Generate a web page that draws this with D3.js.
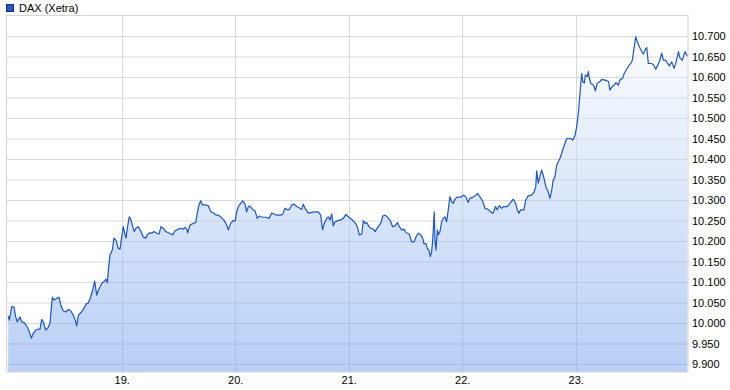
<!DOCTYPE html>
<html>
<head>
<meta charset="utf-8">
<script src="https://cdn.jsdelivr.net/npm/d3@7"></script>
<style>
  body { margin: 0; background: #fff; }
  text { font-family: Arial, "Liberation Sans", sans-serif; font-size: 11px; fill: #000; }
</style>
</head>
<body>
<svg id="chart" width="730" height="390"></svg>
<script>
// series name
const seriesName = "DAX (Xetra)";

// trading days shown on the x axis (day 18 is the left edge)
const xTickDays = [19, 20, 21, 22, 23];

// y tick values (index points)
const yTicks = d3.range(9900, 10701, 50);

// time as trading day + fraction of the session
const times = [
  18.000,18.010,18.031,18.051,18.066,18.080,18.104,18.119,18.139,18.163,18.186,18.204,18.221,18.245,18.265,18.280,18.295,18.309,18.330,18.348,18.368,18.389,18.404,18.427,18.448,18.463,18.485,18.509,18.530,18.551,18.574,18.591,18.604,18.618,18.639,18.662,18.685,18.706,18.727,18.744,18.762,18.780,18.794,18.809,18.824,18.844,18.862,18.873,18.884,18.897,18.917,18.932,18.950,18.970,18.985,
  19.000,19.014,19.029,19.038,19.049,19.067,19.082,19.097,19.111,19.126,19.146,19.161,19.176,19.190,19.211,19.226,19.243,19.264,19.285,19.308,19.329,19.346,19.367,19.388,19.411,19.434,19.449,19.470,19.499,19.522,19.543,19.558,19.573,19.581,19.602,19.631,19.652,19.666,19.681,19.696,19.710,19.734,19.763,19.787,19.807,19.831,19.851,19.872,19.901,19.925,19.939,19.960,19.983,
  20.000,20.013,20.027,20.048,20.066,20.086,20.101,20.115,20.130,20.154,20.174,20.195,20.212,20.242,20.271,20.297,20.322,20.342,20.366,20.395,20.418,20.439,20.459,20.477,20.498,20.518,20.542,20.571,20.586,20.600,20.615,20.630,20.644,20.674,20.703,20.732,20.753,20.762,20.771,20.776,20.791,20.806,20.820,20.835,20.850,20.864,20.879,20.899,20.923,20.952,20.976,
  21.000,21.026,21.055,21.076,21.093,21.115,21.129,21.144,21.159,21.179,21.194,21.217,21.232,21.261,21.285,21.300,21.320,21.340,21.364,21.387,21.408,21.428,21.446,21.467,21.487,21.505,21.534,21.555,21.576,21.593,21.613,21.634,21.652,21.663,21.681,21.692,21.707,21.719,21.731,21.740,21.749,21.754,21.760,21.769,21.781,21.789,21.804,21.819,21.833,21.848,21.863,21.877,21.892,21.907,21.921,21.936,21.956,21.986,
  22.015,22.033,22.053,22.068,22.097,22.121,22.136,22.156,22.180,22.200,22.229,22.250,22.273,22.294,22.308,22.326,22.347,22.368,22.397,22.421,22.450,22.471,22.485,22.500,22.515,22.544,22.559,22.582,22.612,22.633,22.648,22.656,22.670,22.685,22.700,22.714,22.738,22.758,22.773,22.789,22.802,22.817,22.833,22.847,22.868,22.885,22.906,22.921,22.937,22.956,22.974,22.994,
  23.009,23.023,23.038,23.053,23.062,23.076,23.085,23.102,23.111,23.120,23.135,23.150,23.164,23.173,23.190,23.214,23.229,23.249,23.273,23.289,23.302,23.317,23.337,23.355,23.375,23.390,23.414,23.428,23.449,23.467,23.485,23.499,23.514,23.529,23.543,23.561,23.582,23.596,23.611,23.626,23.640,23.661,23.684,23.705,23.723,23.737,23.758,23.772,23.792,23.811,23.825,23.846,23.867,23.885,23.905,23.919,23.940,23.963,23.984
];

// index level at each time
const values = [
  10017,10007,10040,10039,10015,10003,10015,10003,10001,9993,9979,9963,9975,9983,9985,9985,10009,10003,9983,9987,9999,10063,10056,10060,10063,10044,10030,10027,10033,10030,10019,10007,9993,10019,10025,10033,10046,10049,10064,10080,10102,10068,10080,10088,10097,10101,10107,10098,10134,10166,10178,10207,10202,10182,10180,
  10210,10235,10215,10207,10231,10259,10251,10235,10223,10231,10235,10228,10219,10210,10207,10215,10220,10219,10223,10219,10217,10235,10231,10223,10220,10217,10215,10225,10229,10231,10229,10233,10229,10220,10239,10243,10245,10268,10288,10298,10288,10288,10286,10271,10269,10263,10263,10259,10251,10239,10227,10243,10250,
  10249,10271,10284,10292,10298,10290,10271,10284,10285,10277,10274,10255,10261,10258,10258,10255,10268,10266,10263,10263,10265,10280,10276,10277,10288,10290,10284,10280,10277,10290,10280,10274,10268,10270,10271,10271,10263,10243,10227,10235,10247,10255,10259,10251,10266,10237,10247,10249,10251,10255,10265,
  10258,10253,10245,10235,10215,10217,10250,10243,10245,10235,10231,10229,10223,10235,10245,10261,10263,10259,10251,10235,10237,10245,10235,10227,10229,10220,10217,10198,10198,10210,10219,10215,10207,10193,10194,10182,10178,10162,10174,10202,10249,10271,10202,10178,10227,10215,10223,10247,10255,10259,10247,10276,10308,10296,10292,10302,10307,10307,
  10312,10307,10294,10304,10307,10312,10316,10308,10298,10280,10277,10271,10268,10284,10276,10286,10280,10284,10284,10292,10302,10292,10276,10268,10276,10276,10300,10310,10312,10319,10332,10371,10341,10357,10373,10361,10332,10320,10304,10324,10349,10357,10385,10393,10406,10422,10438,10450,10450,10450,10446,10458,
  10479,10511,10560,10609,10589,10585,10605,10601,10613,10597,10583,10583,10575,10566,10585,10589,10594,10593,10591,10589,10568,10575,10580,10586,10580,10593,10597,10609,10619,10627,10633,10641,10670,10698,10686,10674,10662,10656,10666,10672,10633,10633,10631,10619,10629,10637,10658,10641,10641,10633,10627,10637,10621,10637,10662,10646,10641,10662,10651
];

const data = d3.zip(times, values);

const plotLeft = 6.5, plotRight = 688, plotTop = 15.5, plotBottom = 372;

const svg = d3.select("#chart");

const de = d3.formatLocale({ decimal: ",", thousands: ".", grouping: [3], currency: ["", " €"] });
const fmt = de.format(",d");

const xScale = d3.scaleLinear()
    .domain([18, 24])
    .range([8.2, 689.2]);

const yScale = d3.scaleLinear()
    .domain([9880.5, 10748.8])
    .range([plotBottom, 16]);

// gradient for the area
const defs = svg.append("defs");
const grad = defs.append("linearGradient")
    .attr("id", "fillGrad")
    .attr("gradientUnits", "userSpaceOnUse")
    .attr("x1", 0).attr("y1", 16).attr("x2", 0).attr("y2", plotBottom);
grad.append("stop").attr("offset", "0%").attr("stop-color", "#ffffff");
grad.append("stop").attr("offset", "100%").attr("stop-color", "#719feb");

defs.append("clipPath").attr("id", "clip")
  .append("rect")
    .attr("x", plotLeft).attr("y", plotTop)
    .attr("width", plotRight - plotLeft).attr("height", plotBottom - plotTop);

// horizontal grid + y labels
const yAxis = svg.append("g")
    .attr("transform", `translate(${plotRight}, 0)`)
    .call(d3.axisRight(yScale)
        .tickValues(yTicks)
        .tickSize(-(plotRight - plotLeft))
        .tickPadding(4)
        .tickFormat(fmt));
yAxis.select(".domain").remove();
yAxis.selectAll("line").attr("stroke", "#d9d9d9");
yAxis.selectAll("text").attr("dy", "0.36em").attr("x", 4);

// vertical grid + day labels
const xAxis = svg.append("g")
    .attr("transform", `translate(0, ${plotBottom})`)
    .call(d3.axisBottom(xScale)
        .tickValues(xTickDays)
        .tickSize(-(plotBottom - plotTop))
        .tickPadding(4.5)
        .tickFormat(d => d + "."));
xAxis.select(".domain").remove();
xAxis.selectAll("line").attr("stroke", "#d9d9d9").attr("shape-rendering", "crispEdges");

// area + line
const area = d3.area()
    .x(d => xScale(d[0]))
    .y0(plotBottom)
    .y1(d => yScale(d[1]));

const line = d3.line()
    .x(d => xScale(d[0]))
    .y(d => yScale(d[1]));

const chart = svg.append("g").attr("clip-path", "url(#clip)");

chart.append("path")
    .datum(data)
    .attr("d", area)
    .attr("fill", "url(#fillGrad)")
    .attr("fill-opacity", 0.5);

chart.append("path")
    .datum(data)
    .attr("d", line)
    .attr("fill", "none")
    .attr("stroke", "#1a56c5")
    .attr("stroke-width", 1.2)
    .attr("stroke-linejoin", "round");

// plot border
svg.append("rect")
    .attr("x", plotLeft).attr("y", plotTop)
    .attr("width", plotRight - plotLeft).attr("height", plotBottom - plotTop)
    .attr("fill", "none")
    .attr("stroke", "#d4d4d4");

// legend
svg.append("rect")
    .attr("x", 6.5).attr("y", 4.5)
    .attr("width", 7).attr("height", 7)
    .attr("fill", "#1d5cc8")
    .attr("stroke", "#0d2f73");
svg.append("text")
    .attr("x", 19).attr("y", 12)
    .attr("fill", "#222")
    .text(seriesName);
</script>
</body>
</html>
